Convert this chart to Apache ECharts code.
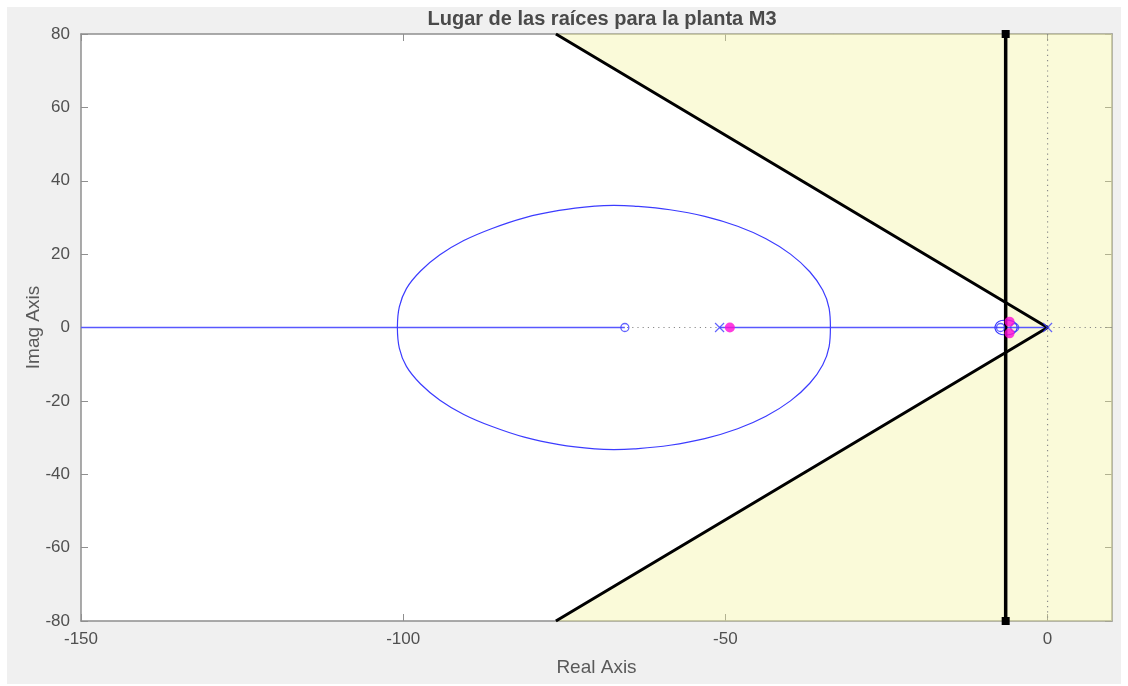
<!DOCTYPE html>
<html>
<head>
<meta charset="utf-8">
<script src="https://cdn.jsdelivr.net/npm/echarts@6/dist/echarts.min.js"></script>
<style>
  html, body { margin: 0; padding: 0; background: #ffffff; }
  #wrap { position: relative; width: 1128px; height: 686px; background: #ffffff; }
  #c { position: absolute; left: 7px; top: 7px; width: 1114px; height: 677px; }
</style>
</head>
<body>
<div id="wrap"><div id="c"></div></div>
<script>
// Axis ticks
const realTicks = [-150, -100, -50, 0];
const imagTicks = [-80, -60, -40, -20, 0, 20, 40, 60, 80];

// Real-axis segments of the locus
const branchLeft = [[-150, 0], [-65.6, 0]];
const branchMid = [[-50.9, 0], [0, 0]];

// Large circular branch between the breakaway points
const circleUpper = [[-100.9, 0], [-100.6, 5.6], [-99.5, 10.6], [-97.3, 15.4], [-94.3, 19.8], [-90.6, 23.7],
  [-86.2, 27.0], [-81.2, 29.9], [-75.8, 31.9], [-70.2, 33.1], [-67.3, 33.3], [-64.2, 33.1], [-58.6, 32.1],
  [-53.2, 30.3], [-48.1, 27.6], [-43.7, 24.2], [-39.9, 20.0], [-36.9, 15.2], [-34.9, 10.2], [-33.9, 5.2],
  [-33.7, 0]];
const circleLower = [[-100.9, 0], [-100.6, -5.6], [-99.5, -10.6], [-97.3, -15.4], [-94.3, -19.8], [-90.6, -23.7],
  [-86.2, -27.0], [-81.2, -29.9], [-75.8, -31.9], [-70.2, -33.1], [-67.3, -33.3], [-64.2, -33.1], [-58.6, -32.1],
  [-53.2, -30.3], [-48.1, -27.6], [-43.7, -24.2], [-39.9, -20.0], [-36.9, -15.2], [-34.9, -10.2], [-33.9, -5.2],
  [-33.7, 0]];

// Small loop near the dominant poles
const loopUpper = [[-8.2, 0], [-7.9, 1.2], [-7.2, 1.9], [-6.3, 2.0], [-5.4, 1.7], [-4.9, 1.0], [-4.7, 0]];
const loopLower = [[-8.2, 0], [-7.9, -1.2], [-7.2, -1.9], [-6.3, -2.0], [-5.4, -1.7], [-4.9, -1.0], [-4.7, 0]];

// Open-loop zeros (o) and poles (x), closed-loop poles (filled)
const openLoopZeros = [[-65.6, 0], [-7.3, 0], [-5.1, 0]];
const openLoopPoles = [[-50.9, 0], [0, 0]];
const closedLoopPoles = [[-49.3, 0], [-5.9, 1.6], [-5.9, -1.6]];

// Design region: damping-ratio wedge and settling-time boundary
const dampingLines = [[-76.3, 80], [0, 0], [-76.3, -80]];
const sigmaBound = [[-6.5, 80], [-6.5, -80]];
const allowedRegion = [[-76.3, 80], [10, 80], [10, -80], [-76.3, -80], [-6.5, -6.8], [-6.5, 6.8]];

// Reference axes through the origin
const realAxisRef = [[-150, 0], [10, 0]];
const imagAxisRef = [[0, 80], [0, -80]];

const FONT = 'Liberation Sans, Arial, sans-serif';
const BLUE = '#3c3cff';
const BOX = '#8f8f8f';

const chart = echarts.init(document.getElementById('c'), null, { renderer: 'canvas' });

const blueLine = (data, smooth, width, color) => ({
  type: 'line', data, smooth: smooth || false, showSymbol: false, symbol: 'none', color: color || BLUE,
  itemStyle: { color: color || BLUE },
  lineStyle: { color: color || BLUE, width: width || 1.2, opacity: 1 }, z: 5, silent: true, animation: false
});

const boxAxis = {
  axisLine: { show: true, onZero: false, lineStyle: { color: BOX, width: 1.5 } },
  axisTick: { show: true, inside: true, length: 7, lineStyle: { color: BOX } },
  splitLine: { show: false }
};

chart.setOption({
  backgroundColor: '#f0f0f0',
  animation: false,
  title: {
    text: 'Lugar de las raíces para la planta M3',
    left: 590, top: -3, textAlign: 'center',
    textStyle: { fontFamily: FONT, fontSize: 20, fontWeight: 'bold', color: '#4a4a4a' }
  },
  grid: { left: 74, right: 9, top: 27, bottom: 63, show: true, backgroundColor: '#ffffff', borderWidth: 0 },
  xAxis: [
    Object.assign({
      type: 'value', min: -150, max: 10, interval: 50, position: 'bottom',
      name: 'Real Axis', nameLocation: 'middle', nameGap: 37, nameMoveOverlap: false,
      nameTextStyle: { fontFamily: FONT, fontSize: 19, color: '#5a5a5a' },
      axisLabel: { customValues: realTicks, margin: 10, fontFamily: FONT, fontSize: 17, color: '#505050' }
    }, boxAxis, { axisTick: Object.assign({}, boxAxis.axisTick, { customValues: realTicks }) }),
    Object.assign({
      type: 'value', min: -150, max: 10, interval: 50, position: 'top',
      axisLabel: { show: false }
    }, boxAxis, { axisTick: Object.assign({}, boxAxis.axisTick, { customValues: realTicks }) })
  ],
  yAxis: [
    Object.assign({
      type: 'value', min: -80, max: 80, interval: 20, position: 'left',
      name: 'Imag Axis', nameLocation: 'middle', nameGap: 38, nameMoveOverlap: false,
      nameTextStyle: { fontFamily: FONT, fontSize: 19, color: '#5a5a5a' },
      axisLabel: { customValues: imagTicks, margin: 11, fontFamily: FONT, fontSize: 17, color: '#505050' }
    }, boxAxis, { axisTick: Object.assign({}, boxAxis.axisTick, { customValues: imagTicks }) }),
    Object.assign({
      type: 'value', min: -80, max: 80, interval: 20, position: 'right',
      axisLabel: { show: false }
    }, boxAxis, { axisTick: Object.assign({}, boxAxis.axisTick, { customValues: imagTicks }) })
  ],
  series: [
    {
      // shaded allowed region for the closed-loop poles
      type: 'custom', z: 1, silent: true, clip: false,
      data: [[0, 0]],
      renderItem: (params, api) => ({
        type: 'polygon',
        shape: { points: allowedRegion.map(p => api.coord(p)) },
        style: { fill: 'rgba(240,240,150,0.36)', stroke: 'rgba(225,225,170,0.5)', lineWidth: 1 }
      })
    },
    {
      type: 'line', data: realAxisRef, showSymbol: false, symbol: 'none', z: 3, silent: true,
      lineStyle: { color: '#8a8a8a', width: 1.2, type: [1.2, 4] }
    },
    {
      type: 'line', data: imagAxisRef, showSymbol: false, symbol: 'none', z: 3, silent: true,
      lineStyle: { color: '#8a8a8a', width: 1.2, type: [1.2, 4] }
    },
    blueLine(branchLeft, false, 1.7, '#5858ff'),
    blueLine(branchMid, false, 1.7, '#5858ff'),
    blueLine(circleUpper, 0.4),
    blueLine(circleLower, 0.4),
    blueLine(loopUpper, 0.3),
    blueLine(loopLower, 0.3),
    {
      type: 'line', data: dampingLines, showSymbol: false, symbol: 'none', z: 6, silent: true,
      lineStyle: { color: '#000000', width: 3 }
    },
    {
      type: 'line', data: sigmaBound, symbol: 'rect', symbolSize: 8, showSymbol: true, z: 6, silent: true,
      itemStyle: { color: '#000000' }, lineStyle: { color: '#000000', width: 3.5 }
    },
    {
      type: 'scatter', data: openLoopZeros, symbol: 'circle', symbolSize: 8, z: 7, silent: true,
      itemStyle: { color: 'rgba(255,255,255,0)', borderColor: BLUE, borderWidth: 1.3 }
    },
    {
      type: 'scatter', data: openLoopPoles, symbol: 'path://M0,0L10,10M10,0L0,10', symbolSize: 9, z: 7, silent: true,
      itemStyle: { color: 'none', borderColor: BLUE, borderWidth: 1.2 }
    },
    {
      type: 'scatter', data: closedLoopPoles, symbol: 'circle', symbolSize: 10, z: 8, silent: true,
      itemStyle: { color: '#ff0cd6' }
    }
  ]
});
</script>
</body>
</html>
